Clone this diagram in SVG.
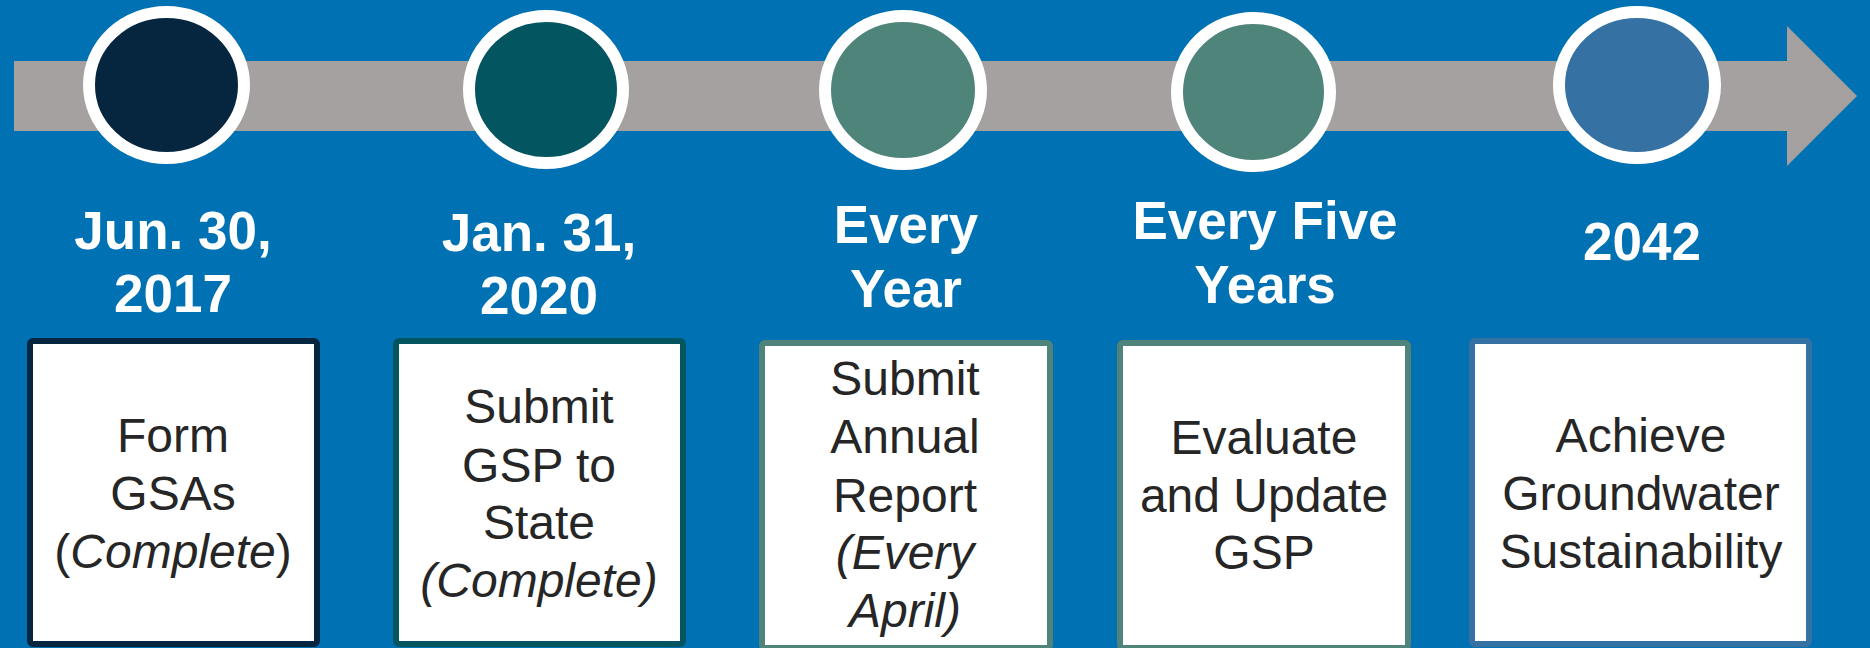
<svg xmlns="http://www.w3.org/2000/svg" width="1870" height="648" viewBox="0 0 1870 648">
  <style>
    .ring { stroke: #FFFFFF; stroke-width: 12; }
    .date { font-family: "Liberation Sans", Arial, sans-serif; font-weight: bold; font-size: 53px; fill: #FFFFFF; text-anchor: middle; }
    .box { fill: #FFFFFF; stroke-width: 6; }
    .desc { font-family: "Liberation Sans", Arial, sans-serif; font-size: 48px; fill: #262626; text-anchor: middle; }
    .it { font-style: italic; }
  </style>
  <rect x="0" y="0" width="1870" height="648" fill="#0071B3"/>
  <g id="connectors">
    <polygon points="14,61 1787,61 1787,26 1857,96 1787,166 1787,131 14,131" fill="#A4A1A0"/>
  </g>
  <g id="m1">
    <ellipse class="ring" cx="166.5" cy="85" rx="77.5" ry="73" fill="#062640"/>
    <text class="date" x="173" y="249">Jun. 30,</text>
    <text class="date" x="173" y="312">2017</text>
    <rect class="box" x="30" y="341" width="287" height="303" rx="3" stroke="#062640"/>
    <text class="desc" x="173" y="452">Form</text>
    <text class="desc" x="173" y="510">GSAs</text>
    <text class="desc" x="173" y="568">(<tspan class="it">Complete</tspan>)</text>
  </g>
  <g id="m2">
    <ellipse class="ring" cx="546" cy="89.5" rx="77" ry="73.5" fill="#03565F"/>
    <text class="date" x="539" y="251">Jan. 31,</text>
    <text class="date" x="539" y="314">2020</text>
    <rect class="box" x="396" y="341" width="287" height="303" rx="3" stroke="#03565F"/>
    <text class="desc" x="539" y="423">Submit</text>
    <text class="desc" x="539" y="482">GSP to</text>
    <text class="desc" x="539" y="539">State</text>
    <text class="desc it" x="539" y="597">(Complete)</text>
  </g>
  <g id="m3">
    <ellipse class="ring" cx="903" cy="90" rx="78" ry="74" fill="#4E847A"/>
    <text class="date" x="906" y="243">Every</text>
    <text class="date" x="906" y="307">Year</text>
    <rect class="box" x="762" y="343" width="288" height="305" rx="3" stroke="#4E847A"/>
    <text class="desc" x="905" y="395">Submit</text>
    <text class="desc" x="905" y="453">Annual</text>
    <text class="desc" x="905" y="512">Report</text>
    <text class="desc it" x="905" y="569">(Every</text>
    <text class="desc it" x="905" y="627">April)</text>
  </g>
  <g id="m4">
    <ellipse class="ring" cx="1253.5" cy="92" rx="76.5" ry="74" fill="#4E847A"/>
    <text class="date" x="1265" y="239">Every Five</text>
    <text class="date" x="1265" y="303">Years</text>
    <rect class="box" x="1120" y="343" width="288" height="305" rx="3" stroke="#4E847A"/>
    <text class="desc" x="1264" y="454">Evaluate</text>
    <text class="desc" x="1264" y="512">and Update</text>
    <text class="desc" x="1264" y="569">GSP</text>
  </g>
  <g id="m5">
    <ellipse class="ring" cx="1637" cy="85" rx="78" ry="73" fill="#3571A2"/>
    <text class="date" x="1642" y="260">2042</text>
    <rect class="box" x="1472" y="341" width="337" height="303" rx="3" stroke="#3571A2"/>
    <text class="desc" x="1641" y="452">Achieve</text>
    <text class="desc" x="1641" y="510">Groundwater</text>
    <text class="desc" x="1641" y="568">Sustainability</text>
  </g>
</svg>
